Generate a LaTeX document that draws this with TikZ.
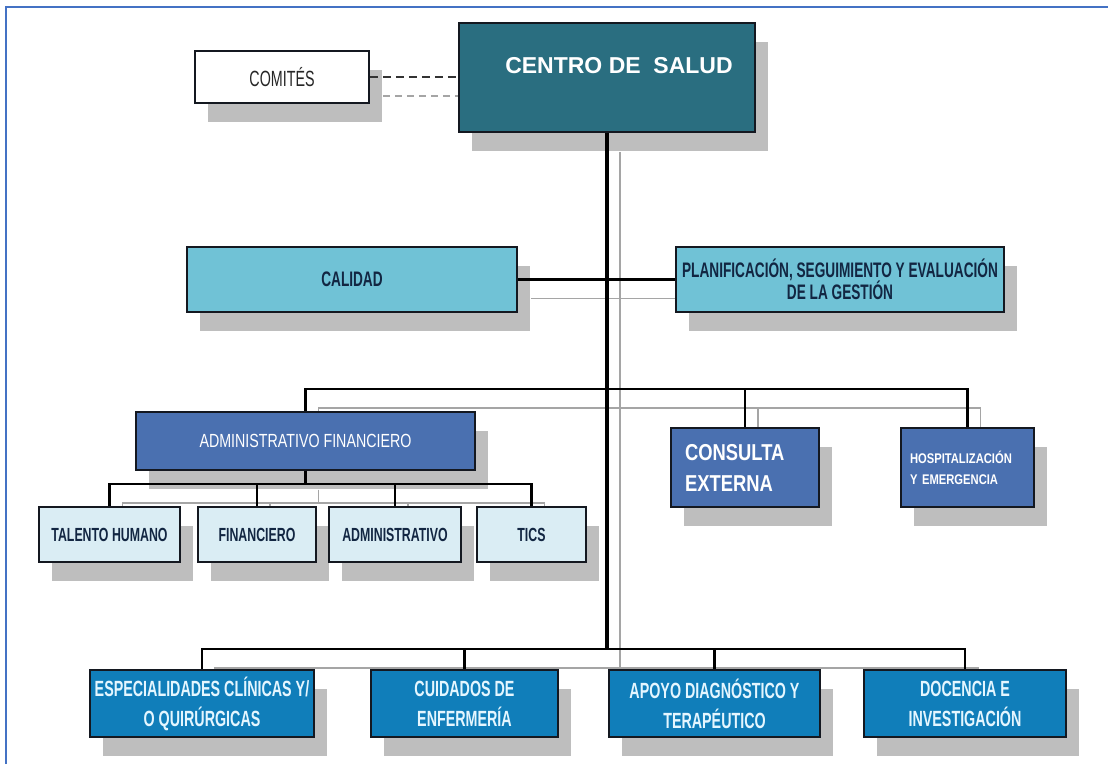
\documentclass[tikz,border=0pt]{standalone}
\usepackage{fontspec}
\setmainfont{Liberation Sans}
\newfontfamily\condfont[FakeStretch=0.65]{Liberation Sans}
\newfontfamily\admfont[FakeStretch=0.75]{Liberation Sans}
\newfontfamily\medfont[FakeStretch=0.8]{Liberation Sans}
\usetikzlibrary{shadows}
\pgfdeclarelayer{wireshadow}
\pgfsetlayers{wireshadow,main}

\definecolor{centroteal}{RGB}{42,110,128}
\definecolor{calcyan}{RGB}{112,194,214}
\definecolor{admblue}{RGB}{74,112,176}
\definecolor{subpale}{RGB}{218,237,244}
\definecolor{botblue}{RGB}{16,126,186}
\definecolor{shadowgrey}{RGB}{190,190,190}
\definecolor{wiregrey}{RGB}{165,165,165}
\definecolor{frameblue}{RGB}{68,114,196}
\definecolor{navytext}{RGB}{18,38,66}
\definecolor{palecyan}{RGB}{228,246,255}
\definecolor{boxline}{RGB}{20,24,32}

% all the connectors, drawn once as shadow and once in black
\newcommand\orgwires{%
  \draw[dashwire] (comites.east) -- (comites.east -| centro.west);
  \draw[trunk] (centro.south) -- (bot);
  \draw[wire] (calidad) -- (planif);
  \foreach \n in {admfin,consulta,hosp} \draw[wire] (lvl) -| (\n.north);
  \foreach \n in {talento,finan,admin,tics} \draw[wire] (admfin.south) -- ++(0,13) -| (\n.north);
  \foreach \n in {espec,cuidados,apoyo,docencia} \draw[wire] (bot) -| (\n.north);
}

\begin{document}
\begin{tikzpicture}[x=1pt, y=-1pt,
  box/.style={draw=boxline, line width=1.8pt, inner sep=0pt, align=center,
    drop shadow={shadow xshift=13pt, shadow yshift=-19pt, fill=shadowgrey, opacity=1}},
  topbox/.style={box, fill=calcyan, text=navytext, minimum height=65pt,
    font=\condfont\bfseries\fontsize{21}{22}\selectfont},
  areabox/.style={box, fill=admblue, text=white, minimum height=79pt},
  subbox/.style={box, fill=subpale, text=navytext, minimum height=55pt,
    font=\condfont\bfseries\fontsize{19}{22}\selectfont},
  botbox/.style={box, fill=botblue, text=palecyan, minimum height=67pt,
    font=\condfont\bfseries\fontsize{22}{30}\selectfont}]

\useasboundingbox (0,0) rectangle (1108,764);
\draw[frameblue, line width=2.5pt] (6,764) -- (6,7) -- (1108,7);

\node[box, fill=white, minimum width=174pt, minimum height=52pt, text=black!85,
  font=\condfont\fontsize{22}{24}\selectfont] (comites) at (282,77) {COMITÉS};
\node[box, fill=centroteal, minimum width=296pt, minimum height=109pt, text=white,
  font=\bfseries\fontsize{23}{26}\selectfont] (centro) at (607,77.5)
  {\raisebox{25pt}{\hspace*{24pt}CENTRO DE\ \ SALUD}};

\node[topbox, minimum width=330pt] (calidad) at (352,279.5) {CALIDAD};
\node[topbox, minimum width=328pt] (planif) at (840,279.5)
  {PLANIFICACIÓN, SEGUIMIENTO Y EVALUACIÓN\\DE LA GESTIÓN};

\node[box, fill=admblue, text=white, minimum width=339pt, minimum height=58pt,
  font=\admfont\fontsize{19}{22}\selectfont] (admfin) at (305.5,441) {ADMINISTRATIVO FINANCIERO};
\node[areabox, minimum width=148pt, text width=120pt, align=left,
  font=\medfont\bfseries\fontsize{23}{31}\selectfont] (consulta) at (745,467.5) {CONSULTA\\EXTERNA};
\node[areabox, minimum width=133pt, text width=115pt, align=left,
  font=\medfont\bfseries\fontsize{14}{21}\selectfont] (hosp) at (967.5,467.5) {HOSPITALIZACIÓN\\Y EMERGENCIA};

\node[subbox, minimum width=141pt] (talento) at (109.5,534.5) {TALENTO HUMANO};
\node[subbox, minimum width=118pt] (finan) at (257,534.5) {FINANCIERO};
\node[subbox, minimum width=132pt] (admin) at (395,534.5) {ADMINISTRATIVO};
\node[subbox, minimum width=109pt] (tics) at (531.5,534.5) {TICS};

\node[botbox, minimum width=224pt] (espec) at (202,703.5) {ESPECIALIDADES CLÍNICAS Y/\\O QUIRÚRGICAS};
\node[botbox, minimum width=187pt] (cuidados) at (464.5,703.5) {CUIDADOS DE\\ENFERMERÍA};
\node[botbox, minimum width=211pt] (apoyo) at (714.5,703.5) {APOYO DIAGNÓSTICO Y\\TERAPÉUTICO};
\node[botbox, minimum width=202pt] (docencia) at (965,703.5) {DOCENCIA E\\INVESTIGACIÓN};

\coordinate (lvl) at (607,389);
\coordinate (bot) at (607,649);

\begin{pgfonlayer}{wireshadow}
\begin{scope}[transform canvas={xshift=13pt, yshift=-19pt},
  wire/.style={draw=wiregrey, line width=1.6pt}, trunk/.style={wire},
  dashwire/.style={wire, dash pattern=on 7pt off 5pt}]
  \orgwires
\end{scope}
\end{pgfonlayer}
\begin{scope}[wire/.style={draw=black, line width=2.4pt},
  trunk/.style={draw=black, line width=4pt},
  dashwire/.style={draw=black!80, line width=2.8pt, dash pattern=on 8pt off 5pt}]
  \orgwires
\end{scope}

\end{tikzpicture}
\end{document}
